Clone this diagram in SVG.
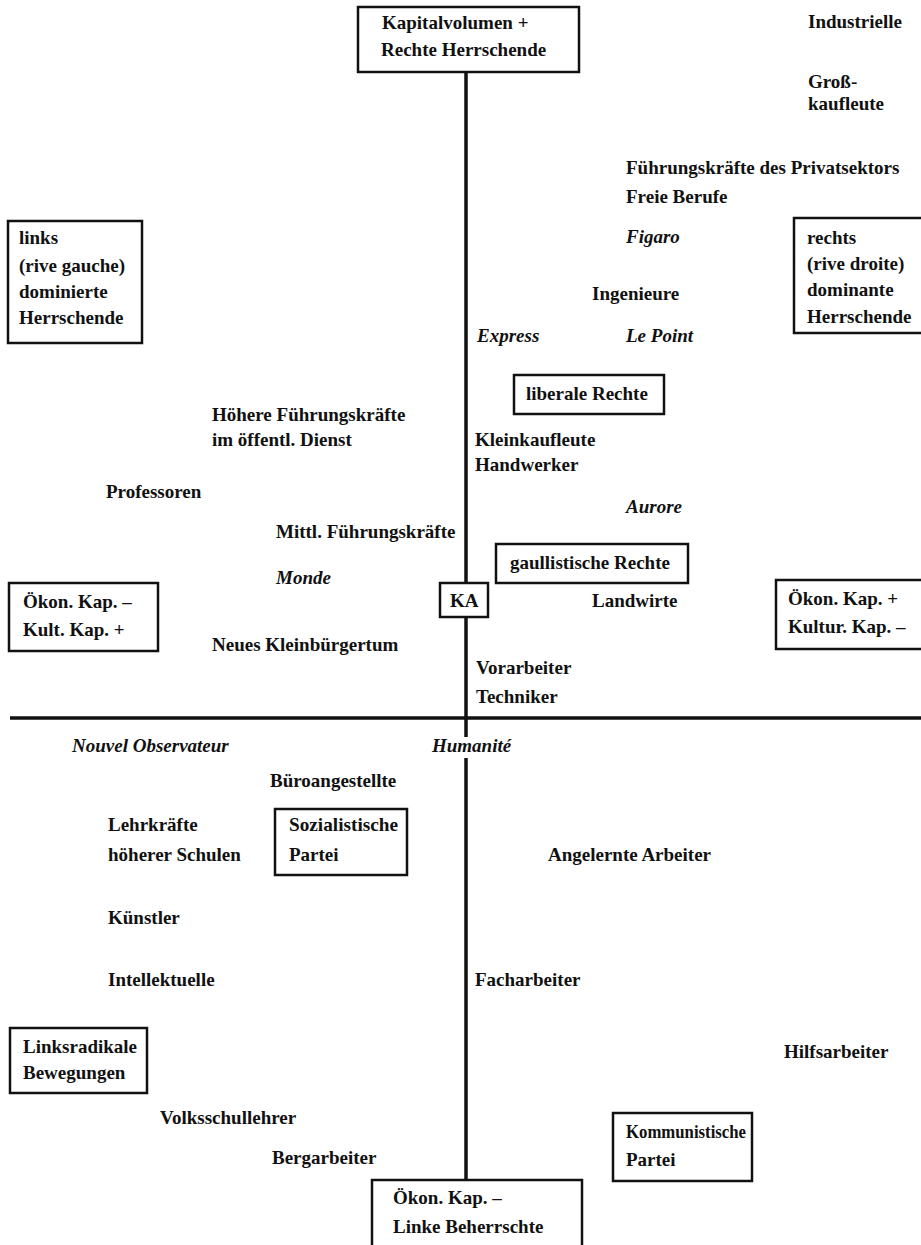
<svg xmlns="http://www.w3.org/2000/svg" width="921" height="1245" viewBox="0 0 921 1245">
<style>
text{font-family:"Liberation Serif","Times New Roman",serif;font-size:19px;font-weight:bold;fill:#111}
.i{font-style:italic}
.box{fill:#fff;stroke:#111;stroke-width:2.5}
.ax{stroke:#111;stroke-width:3.5;fill:none}
</style>
<rect width="921" height="1245" fill="#fff"/>
<g id="connectors">
<line class="ax" x1="466" y1="72" x2="466" y2="583"/>
<line class="ax" x1="466" y1="617" x2="466" y2="737"/>
<line class="ax" x1="466" y1="758" x2="466" y2="1180"/>
<line class="ax" x1="10" y1="718" x2="921" y2="718"/>
</g>
<g id="top"><rect class="box" x="358" y="7" width="221" height="65"/><text x="382" y="29">Kapitalvolumen +</text><text x="381" y="56">Rechte Herrschende</text></g>
<g id="links"><rect class="box" x="8" y="221" width="134" height="122"/><text x="19" y="244">links</text><text x="19" y="272">(rive gauche)</text><text x="19" y="298">dominierte</text><text x="19" y="324">Herrschende</text></g>
<g id="rechts"><rect class="box" x="794" y="218" width="140" height="115"/><text x="807" y="244">rechts</text><text x="807" y="270">(rive droite)</text><text x="807" y="296">dominante</text><text x="807" y="323">Herrschende</text></g>
<g id="liberale"><rect class="box" x="514" y="375" width="150" height="39"/><text x="526" y="400">liberale Rechte</text></g>
<g id="gaullistische"><rect class="box" x="496" y="544" width="192" height="39"/><text x="510" y="569">gaullistische Rechte</text></g>
<g id="ka"><rect class="box" x="440" y="583" width="48" height="34"/><text x="450" y="607">KA</text></g>
<g id="oekon-links"><rect class="box" x="9" y="583" width="149" height="68"/><text x="23" y="608">Ökon. Kap. –</text><text x="23" y="636">Kult. Kap. +</text></g>
<g id="oekon-rechts"><rect class="box" x="776" y="580" width="160" height="69"/><text x="788" y="605">Ökon. Kap. +</text><text x="788" y="633">Kultur. Kap. –</text></g>
<g id="sozialistische"><rect class="box" x="275" y="809" width="132" height="66"/><text x="289" y="831" textLength="109" lengthAdjust="spacingAndGlyphs">Sozialistische</text><text x="289" y="861">Partei</text></g>
<g id="linksradikale"><rect class="box" x="10" y="1028" width="137" height="65"/><text x="23" y="1053">Linksradikale</text><text x="23" y="1079">Bewegungen</text></g>
<g id="kommunistische"><rect class="box" x="613" y="1113" width="139" height="68"/><text x="626" y="1138" textLength="120" lengthAdjust="spacingAndGlyphs">Kommunistische</text><text x="626" y="1166">Partei</text></g>
<g id="bottom"><rect class="box" x="372" y="1180" width="210" height="80"/><text x="393" y="1204">Ökon. Kap. –</text><text x="393" y="1233">Linke Beherrschte</text></g>
<g id="labels">
<text x="808" y="28">Industrielle</text>
<text x="808" y="88">Groß-</text>
<text x="808" y="110">kaufleute</text>
<text x="626" y="174">Führungskräfte des Privatsektors</text>
<text x="626" y="203">Freie Berufe</text>
<text class="i" x="626" y="243">Figaro</text>
<text x="592" y="300">Ingenieure</text>
<text class="i" x="477" y="342">Express</text>
<text class="i" x="626" y="342">Le Point</text>
<text x="212" y="421">Höhere Führungskräfte</text>
<text x="212" y="446">im öffentl. Dienst</text>
<text x="475" y="446">Kleinkaufleute</text>
<text x="475" y="471">Handwerker</text>
<text x="106" y="498">Professoren</text>
<text class="i" x="626" y="513">Aurore</text>
<text x="276" y="538">Mittl. Führungskräfte</text>
<text class="i" x="276" y="584">Monde</text>
<text x="592" y="607">Landwirte</text>
<text x="212" y="651">Neues Kleinbürgertum</text>
<text x="476" y="674">Vorarbeiter</text>
<text x="476" y="703">Techniker</text>
<text class="i" x="72" y="752">Nouvel Observateur</text>
<text class="i" x="432" y="752">Humanité</text>
<text x="270" y="787">Büroangestellte</text>
<text x="108" y="831">Lehrkräfte</text>
<text x="108" y="861">höherer Schulen</text>
<text x="548" y="861">Angelernte Arbeiter</text>
<text x="108" y="924">Künstler</text>
<text x="108" y="986">Intellektuelle</text>
<text x="475" y="986">Facharbeiter</text>
<text x="784" y="1058">Hilfsarbeiter</text>
<text x="160" y="1124">Volksschullehrer</text>
<text x="272" y="1164">Bergarbeiter</text>
</g>
</svg>
